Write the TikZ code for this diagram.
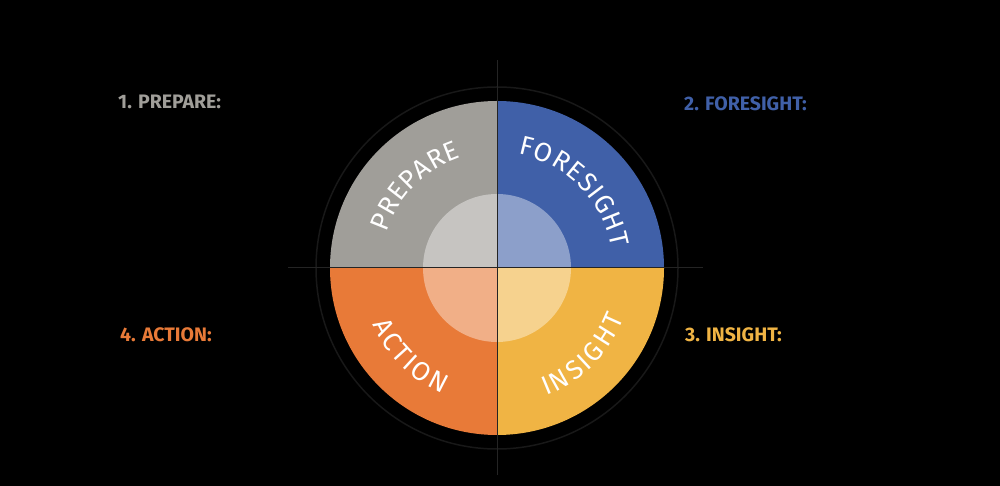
\documentclass[tikz,border=0pt]{standalone}
\usepackage{fontspec}
\setmainfont{Fira Sans}
\usetikzlibrary{decorations.text}
\definecolor{prepcol}{HTML}{A09E99}
\definecolor{forecol}{HTML}{4060A8}
\definecolor{inscol}{HTML}{F0B444}
\definecolor{actcol}{HTML}{E87A38}
\definecolor{guide}{HTML}{242424}
\definecolor{ring}{HTML}{181818}
\begin{document}
\begin{tikzpicture}[x=1pt,y=1pt,
  lbl/.style={anchor=base west, font=\fontsize{19.5}{21}\selectfont\bfseries, inner sep=0pt},
  arctext/.style={decorate, decoration={text effects along path, text={#1},
    text effects/.cd, text along path, fit text to path,
    characters={text=white, font=\fontsize{26.5}{28}\selectfont}}},
  quad/.style={fill=#1},
  guideline/.style={draw=guide, line width=1}
]
% background and page size
\fill[black] (0,0) rectangle (1000,486);
\useasboundingbox (0,0) rectangle (1000,486);

\coordinate (C) at (497,218);
\coordinate (hl) at (288,218);
\coordinate (hr) at (703,218);
\coordinate (vt) at (497,426);
\coordinate (vb) at (497,11);

% outer thin ring
\draw[ring, line width=1.5] (C) circle[radius=181];

% the four quadrants
\fill[quad=prepcol] (C) -- ([shift={(180:167)}]C) arc[start angle=180,end angle=90,radius=167] -- cycle;
\fill[quad=forecol] (C) -- ([shift={(90:167)}]C) arc[start angle=90,end angle=0,radius=167] -- cycle;
\fill[quad=inscol] (C) -- ([shift={(0:167)}]C) arc[start angle=0,end angle=-90,radius=167] -- cycle;
\fill[quad=actcol] (C) -- ([shift={(270:167)}]C) arc[start angle=270,end angle=180,radius=167] -- cycle;

% lighter inner disc
\fill[white, opacity=0.4] (C) circle[radius=74];

% cross hairs
\draw[guideline] (hl) -- (hr);
\draw[guideline] (vt) -- (vb);

% curved quadrant names, spread along their arcs
\path[arctext=PREPARE] ([shift={(162:116)}]C) arc[start angle=162,end angle=108,radius=116];
\path[arctext=FORESIGHT] ([shift={(79.5:116)}]C) arc[start angle=79.5,end angle=10,radius=116];
\path[arctext=ACTION] ([shift={(204.5:137)}]C) arc[start angle=204.5,end angle=246.5,radius=137];
\path[arctext=INSIGHT] ([shift={(291:137)}]C) arc[start angle=291,end angle=338.5,radius=137];

% side headings
\node[lbl, text=prepcol] (l1) at (118,377) {1. PREPARE:};
\node[lbl, text=forecol] (l2) at (684,375) {2. FORESIGHT:};
\node[lbl, text=inscol] (l3) at (685,144) {3. INSIGHT:};
\node[lbl, text=actcol] (l4) at (120,144) {4. ACTION:};
\end{tikzpicture}
\end{document}
